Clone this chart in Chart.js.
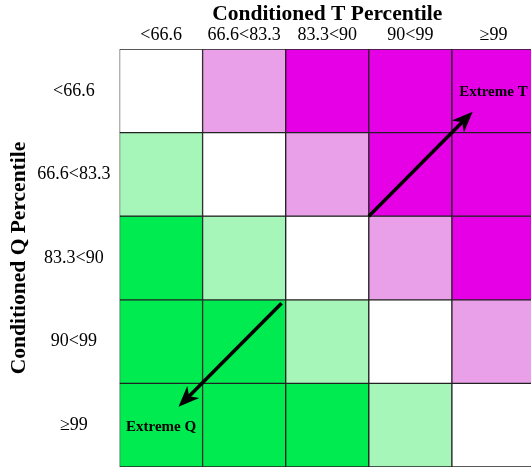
<!DOCTYPE html>
<html>
<head>
<meta charset="utf-8">
<script src="https://cdn.jsdelivr.net/npm/chart.js@4"></script>
<style>
  html, body { margin: 0; padding: 0; overflow: hidden; background: #fff; }
  #wrap { width: 540px; height: 468px; }
</style>
</head>
<body>
<div id="wrap"><canvas id="heat" width="540" height="468"></canvas></div>
<script>
// column categories (conditioned T) and row categories (conditioned Q)
const tLabels = ["<66.6", "66.6<83.3", "83.3<90", "90<99", "\u226599"];
const qLabels = ["<66.6", "66.6<83.3", "83.3<90", "90<99", "\u226599"];

// shade level of each cell, one array per Q row (-2 strong Q ... +2 strong T)
const rowQ1 = [0, 1, 2, 2, 2];
const rowQ2 = [-1, 0, 1, 2, 2];
const rowQ3 = [-2, -1, 0, 1, 2];
const rowQ4 = [-2, -2, -1, 0, 1];
const rowQ5 = [-2, -2, -2, -1, 0];
const cellLevels = [rowQ1, rowQ2, rowQ3, rowQ4, rowQ5];

// arrows and their labels, in axis units (column index, row position)
const arrows = [
  { from: [2.5, 2.0], to: [3.75, 0.75] },
  { from: [1.45, 3.04], to: [0.21, 4.28] }
];
const notes = [
  { text: "Extreme T", at: [4.0, 0.52] },
  { text: "Extreme Q", at: [0.0, 4.52] }
];

const levelColors = {
  "-2": "#00eb50",
  "-1": "#a6f6ba",
  "0": "#ffffff",
  "1": "#e9a0e9",
  "2": "#e600e6"
};

const serif = "'Liberation Serif', 'Times New Roman', serif";

const datasets = cellLevels.map((row, i) => ({
  label: qLabels[i],
  data: row.map(() => 1),
  backgroundColor: row.map(l => levelColors[l]),
  borderColor: "#222",
  borderWidth: 1,
  borderSkipped: false,
  barPercentage: 1,
  categoryPercentage: 1
}));

const arrowPlugin = {
  id: "arrows",
  afterDatasetsDraw(chart) {
    const { ctx, scales: { x, y } } = chart;
    ctx.save();
    ctx.fillStyle = "#000";
    ctx.strokeStyle = "#000";
    arrows.forEach(a => {
      const x0 = x.getPixelForValue(a.from[0]);
      const y0 = y.getPixelForValue(a.from[1]);
      const x1 = x.getPixelForValue(a.to[0]);
      const y1 = y.getPixelForValue(a.to[1]);
      const len = Math.hypot(x1 - x0, y1 - y0);
      const ux = (x1 - x0) / len, uy = (y1 - y0) / len;
      const nx = -uy, ny = ux;
      const L = 21, W = 8.5, N = 6;
      ctx.lineWidth = 3.5;
      ctx.beginPath();
      ctx.moveTo(x0, y0);
      ctx.lineTo(x1 - (L - N) * ux, y1 - (L - N) * uy);
      ctx.stroke();
      ctx.beginPath();
      ctx.moveTo(x1, y1);
      ctx.lineTo(x1 - L * ux + W * nx, y1 - L * uy + W * ny);
      ctx.lineTo(x1 - (L - N) * ux, y1 - (L - N) * uy);
      ctx.lineTo(x1 - L * ux - W * nx, y1 - L * uy - W * ny);
      ctx.closePath();
      ctx.fill();
    });
    ctx.font = "bold 15px " + serif;
    ctx.textAlign = "center";
    ctx.textBaseline = "middle";
    notes.forEach(n => {
      ctx.fillText(n.text, x.getPixelForValue(n.at[0]), y.getPixelForValue(n.at[1]));
    });
    ctx.restore();
  }
};

new Chart(document.getElementById("heat"), {
  type: "bar",
  data: { labels: tLabels, datasets: datasets },
  options: {
    responsive: false,
    animation: false,
    layout: { padding: { left: 0, right: 5, top: 0, bottom: 1 } },
    plugins: { legend: { display: false }, tooltip: { enabled: false } },
    scales: {
      x: {
        position: "top",
        stacked: true,
        grid: { display: false, drawTicks: false },
        border: { display: false },
        ticks: { color: "#000", padding: 3, maxRotation: 0, autoSkip: false, font: { family: serif, size: 18 } },
        title: {
          display: true,
          text: "Conditioned T Percentile",
          color: "#000",
          padding: { top: 2, bottom: 0 },
          font: { family: serif, size: 21.5, weight: "bold" }
        },
        afterFit(scale) {
          scale.height = 49;
          scale.paddingLeft = 0;
          scale.paddingRight = 0;
        }
      },
      y: {
        stacked: true,
        reverse: true,
        min: 0,
        max: 5,
        grid: { display: false, drawTicks: false },
        border: { display: false },
        afterBuildTicks(scale) {
          scale.ticks = qLabels.map((_, i) => ({ value: i + 0.5 }));
        },
        ticks: {
          color: "#000",
          padding: 9,
          crossAlign: "center",
          font: { family: serif, size: 18 },
          callback: v => qLabels[Math.floor(v)]
        },
        title: {
          display: true,
          text: "Conditioned Q Percentile",
          color: "#000",
          padding: { top: 7, bottom: 0 },
          font: { family: serif, size: 21.5, weight: "bold" }
        },
        afterFit(scale) {
          scale.width = 119.5;
          scale.paddingTop = 0;
          scale.paddingBottom = 0;
        }
      }
    }
  },
  plugins: [arrowPlugin]
});
</script>
</body>
</html>
